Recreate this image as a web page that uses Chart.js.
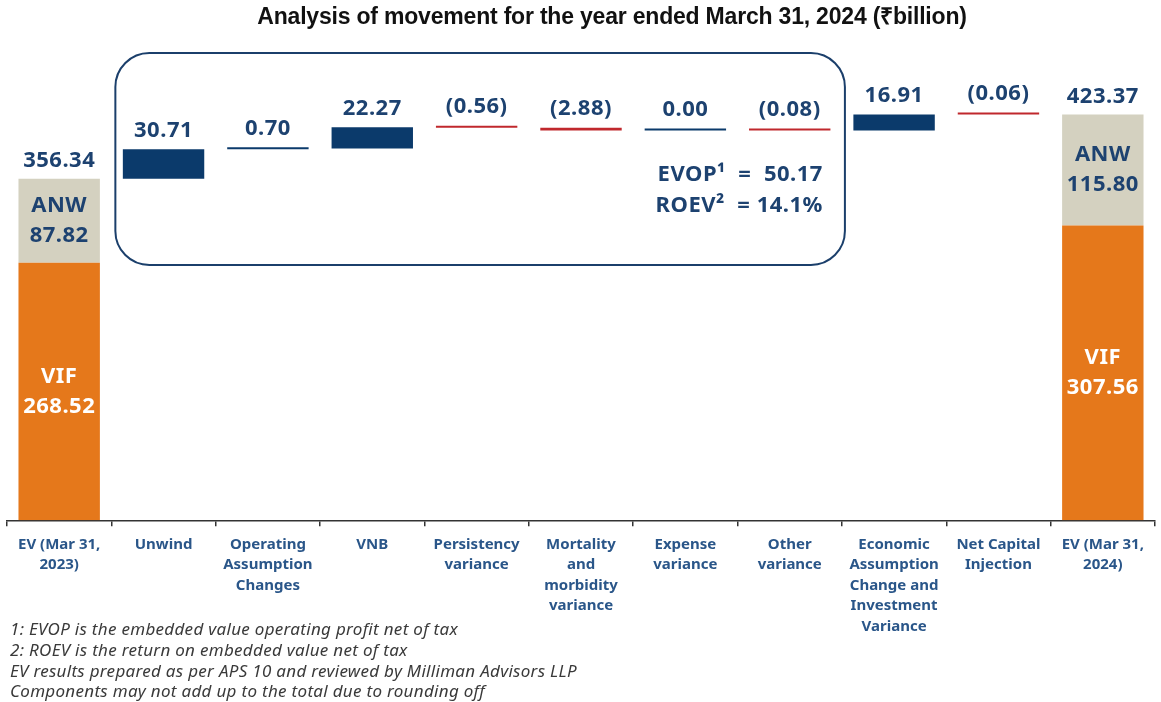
<!DOCTYPE html>
<html>
<head>
<meta charset="utf-8">
<script src="https://cdn.jsdelivr.net/npm/chart.js@4.4.1/dist/chart.umd.min.js"></script>
<style>
  html, body { margin: 0; padding: 0; background: #fff; }
  #wrap { width: 1161px; height: 702px; position: relative; }
</style>
</head>
<body>
<div id="wrap"><canvas id="chart-ev"></canvas></div>
<script>
/* EV walk: opening EV -> movements -> closing EV */

const categories = [
  ['EV (Mar 31,', '2023)'],
  'Unwind',
  ['Operating', 'Assumption', 'Changes'],
  'VNB',
  ['Persistency', 'variance'],
  ['Mortality', 'and', 'morbidity', 'variance'],
  ['Expense', 'variance'],
  ['Other', 'variance'],
  ['Economic', 'Assumption', 'Change and', 'Investment', 'Variance'],
  ['Net Capital', 'Injection'],
  ['EV (Mar 31,', '2024)'],
];

const openingEv = 356.34;
const openingAnw = 87.82;
const openingVif = 268.52;
const closingEv = 423.37;
const closingAnw = 115.80;
const closingVif = 307.56;

// Unwind .. Net Capital Injection
const movements = [30.71, 0.70, 22.27, -0.56, -2.88, 0.00, -0.08, 16.91, -0.06];

const evop = 50.17;
const roev = 14.1;

const title = 'Analysis of movement for the year ended March 31, 2024 (₹billion)';
const footnotes = [
  '1: EVOP is the embedded value operating profit net of tax',
  '2: ROEV is the return on embedded value net of tax',
  'EV results prepared as per APS 10 and reviewed by Milliman Advisors LLP',
  'Components may not add up to the total due to rounding off',
];

const NAVY = '#0b3a6b';
const TEXT_NAVY = '#1d4270';
const RED = '#c0282d';
const ORANGE = '#e5781b';
const BEIGE = '#d4d1c0';
const FONT = '"Noto Sans", "DejaVu Sans", sans-serif';

const last = categories.length - 1;

// floating bars for the two EV columns
const vifData = categories.map(() => null);
const anwData = categories.map(() => null);
vifData[0] = [0, openingVif];
anwData[0] = [openingVif, openingVif + openingAnw];
vifData[last] = [0, closingVif];
anwData[last] = [closingVif, closingVif + closingAnw];

// running total for the movement bars
const moveData = categories.map(() => null);
const moveColors = categories.map(() => NAVY);
let running = openingEv;
movements.forEach((m, i) => {
  moveData[i + 1] = [running, running + m];
  moveColors[i + 1] = m < 0 ? RED : NAVY;
  running += m;
});

function fmt(v) {
  return v < 0 ? '(' + Math.abs(v).toFixed(2) + ')' : v.toFixed(2);
}

const overlayPlugin = {
  id: 'evOverlay',
  afterDatasetsDraw(chart) {
    const ctx = chart.ctx;
    const x = chart.scales.x;
    ctx.save();

    // value labels over each column
    ctx.fillStyle = TEXT_NAVY;
    ctx.font = 'bold 22px ' + FONT;
    ctx.letterSpacing = '0.5px';
    ctx.textAlign = 'center';
    ctx.textBaseline = 'bottom';
    const anwMeta = chart.getDatasetMeta(1);
    const moveMeta = chart.getDatasetMeta(2);
    [0, last].forEach(i => {
      const bar = anwMeta.data[i];
      ctx.fillText((i === 0 ? openingEv : closingEv).toFixed(2), bar.x, bar.y - 7);
    });
    movements.forEach((m, k) => {
      const bar = moveMeta.data[k + 1];
      const top = Math.min(bar.y, bar.base);
      ctx.fillText(fmt(m), bar.x, top - 8);
    });

    // segment labels inside the EV columns
    ctx.textBaseline = 'middle';
    const vifMeta = chart.getDatasetMeta(0);
    [[0, openingAnw, openingVif], [last, closingAnw, closingVif]].forEach(([i, anw, vif]) => {
      const a = anwMeta.data[i];
      const ac = (a.y + a.base) / 2;
      ctx.fillStyle = TEXT_NAVY;
      ctx.fillText('ANW', a.x, ac - 15);
      ctx.fillText(anw.toFixed(2), a.x, ac + 15);
      const v = vifMeta.data[i];
      const vc = (v.y + v.base) / 2;
      ctx.fillStyle = '#ffffff';
      ctx.fillText('VIF', v.x, vc - 15);
      ctx.fillText(vif.toFixed(2), v.x, vc + 15);
    });

    // rounded frame around the operating items
    const half = (x.getPixelForValue(1) - x.getPixelForValue(0)) / 2;
    const bx0 = x.getPixelForValue(1) - half + 4;
    const bx1 = x.getPixelForValue(7) + half + 3;
    const by0 = 53, by1 = 265;
    ctx.strokeStyle = '#1b3f6b';
    ctx.lineWidth = 2;
    ctx.beginPath();
    ctx.roundRect(bx0, by0, bx1 - bx0, by1 - by0, 34);
    ctx.stroke();

    ctx.fillStyle = TEXT_NAVY;
    ctx.textAlign = 'right';
    ctx.fillText('EVOP¹  =  ' + evop.toFixed(2), bx1 - 22, 175);
    ctx.fillText('ROEV²  = ' + roev.toFixed(1) + '%', bx1 - 22, 206);

    // title
    ctx.fillStyle = '#111';
    ctx.textAlign = 'center';
    ctx.font = 'bold 23px "Liberation Sans", Arial, sans-serif';
    ctx.letterSpacing = '-0.2px';
    ctx.fillText(title, 612, 18);

    // footnotes
    ctx.fillStyle = '#3a3a3a';
    ctx.textAlign = 'left';
    ctx.font = 'italic 17px ' + FONT;
    ctx.letterSpacing = '0.3px';
    [630, 651, 672, 692].forEach((y, i) => ctx.fillText(footnotes[i], 10, y));

    ctx.restore();
  },
};

new Chart(document.getElementById('chart-ev'), {
  type: 'bar',
  data: {
    labels: categories,
    datasets: [
      { label: 'VIF', data: vifData, backgroundColor: ORANGE },
      { label: 'ANW', data: anwData, backgroundColor: BEIGE },
      { label: 'Movement', data: moveData, backgroundColor: moveColors, minBarLength: 2 },
    ],
  },
  options: {
    responsive: true,
    maintainAspectRatio: false,
    animation: false,
    datasets: { bar: { categoryPercentage: 1, barPercentage: 0.78 } },
    layout: { padding: { top: 41, left: 7, right: 6, bottom: 57 } },
    plugins: { legend: { display: false }, tooltip: { enabled: false }, title: { display: false } },
    scales: {
      x: {
        stacked: true,
        grid: { display: true, drawOnChartArea: false, drawTicks: true, tickLength: 6, color: '#333', lineWidth: 1.5, offset: true },
        border: { display: true, color: '#333', width: 1.5 },
        ticks: {
          color: '#2a5689',
          font: { family: FONT, size: 15, weight: 'bold', lineHeight: 1.37 },
          padding: 8,
          maxRotation: 0,
          autoSkip: false,
        },
      },
      y: { display: false, min: 0, max: 500 },
    },
  },
  plugins: [overlayPlugin],
});
</script>
</body>
</html>
